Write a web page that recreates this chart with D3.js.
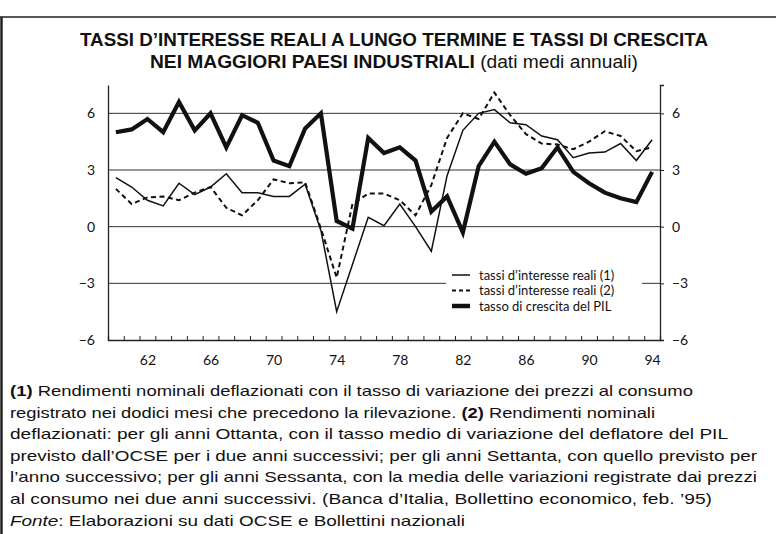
<!DOCTYPE html>
<html><head><meta charset="utf-8">
<script src="https://cdn.jsdelivr.net/npm/d3@7"></script>
<style>
html,body{margin:0;padding:0;background:#fff;}
svg{display:block;}
</style></head>
<body>
<svg id="c" width="776" height="534"></svg>
<script>
// ---------- DATA ----------
const years = d3.range(1960, 1995);
const gdpGrowth = [5.0,5.15,5.7,5.0,6.6,5.1,6.0,4.2,5.9,5.5,3.5,3.2,5.2,6.0,0.3,-0.1,4.7,3.9,4.2,3.5,0.8,1.6,-0.3,3.2,4.5,3.3,2.8,3.1,4.2,2.9,2.3,1.8,1.5,1.3,2.9];
const realRates1 = [2.6,2.1,1.4,1.1,2.3,1.7,2.1,2.8,1.8,1.8,1.6,1.6,2.25,-0.2,-4.5,-2.0,0.5,0.05,1.2,0.0,-1.3,2.7,5.1,6.0,6.2,5.5,5.4,4.8,4.6,3.65,3.9,3.95,4.4,3.5,4.6];
const realRates2 = [2.0,1.2,1.55,1.6,1.4,1.8,2.1,1.0,0.6,1.4,2.5,2.3,2.35,-0.1,-2.7,1.2,1.75,1.75,1.4,0.6,2.2,4.7,6.0,5.7,7.1,5.9,4.9,4.4,4.35,4.1,4.5,5.05,4.8,4.0,4.2];
const yTicks = [-6,-3,0,3,6];
const gridValues = [-3,0,3,6];
const xLabelYears = [62,66,70,74,78,82,86,90,94];
const legendLabels = ["tassi d\u2019interesse reali (1)","tassi d\u2019interesse reali (2)","tasso di crescita del PIL"];
const titleLine1 = "TASSI D\u2019INTERESSE REALI A LUNGO TERMINE E TASSI DI CRESCITA";
const titleLine2Bold = "NEI MAGGIORI PAESI INDUSTRIALI";
const titleLine2Reg = " (dati medi annuali)";
const notes = [
  [["b","(1)"],["r"," Rendimenti nominali deflazionati con il tasso di variazione dei prezzi al consumo"]],
  [["r","registrato nei dodici mesi che precedono la rilevazione. "],["b","(2)"],["r"," Rendimenti nominali"]],
  [["r","deflazionati: per gli anni Ottanta, con il tasso medio di variazione del deflatore del PIL"]],
  [["r","previsto dall\u2019OCSE per i due anni successivi; per gli anni Settanta, con quello previsto per"]],
  [["r","l\u2019anno successivo; per gli anni Sessanta, con la media delle variazioni registrate dai prezzi"]],
  [["r","al consumo nei due anni successivi. (Banca d\u2019Italia, Bollettino economico, feb. \u201995)"]],
  [["i","Fonte"],["r",": Elaborazioni su dati OCSE e Bollettini nazionali"]]
];
const noteWidths = [683, 645, 718, 747, 747, 702, 455];

// ---------- LAYOUT ----------
const svg = d3.select("#c");
const L = 108, R = 660, T = 85, B = 340;
const x = d3.scaleLinear().domain([59.5, 94.5]).range([L, R]);
const y = d3.scaleLinear().domain([-6, 7.5]).range([B, T]);
const tickFont = "Lato, 'DejaVu Sans', sans-serif";

// frame
svg.append("line").attr("x1",0).attr("x2",776).attr("y1",17).attr("y2",17).attr("stroke","#222").attr("stroke-width",1.5);
svg.append("line").attr("x1",1.5).attr("x2",1.5).attr("y1",17).attr("y2",534).attr("stroke","#222").attr("stroke-width",2.5);

// title
svg.append("text").attr("x",394).attr("y",46).attr("text-anchor","middle")
  .attr("font-family","'Liberation Sans Narrow','Liberation Sans',Arial,sans-serif").attr("font-weight","bold")
  .attr("font-size",17.5).attr("textLength",628).attr("lengthAdjust","spacingAndGlyphs").attr("fill","#111")
  .text(titleLine1);
const t2 = svg.append("text").attr("x",394).attr("y",68).attr("text-anchor","middle")
  .attr("font-family","'Liberation Sans Narrow','Liberation Sans',Arial,sans-serif")
  .attr("font-size",17.5).attr("textLength",488).attr("lengthAdjust","spacingAndGlyphs").attr("fill","#111");
t2.append("tspan").attr("font-weight","bold").text(titleLine2Bold);
t2.append("tspan").text(titleLine2Reg);

// gridlines
svg.append("g").selectAll("line").data(gridValues).join("line")
  .attr("x1",L).attr("x2",R).attr("y1",d=>y(d)).attr("y2",d=>y(d))
  .attr("stroke","#333").attr("stroke-width",1);

// axes
const leftAxis = d3.axisLeft(y).tickValues(yTicks).tickSize(0).tickPadding(13).tickFormat(d3.format("d"));
const gl = svg.append("g").attr("transform",`translate(${L},0)`).call(leftAxis);
const rightAxis = d3.axisRight(y).tickValues(yTicks).tickSize(4).tickPadding(8).tickFormat(d3.format("d"));
const gr = svg.append("g").attr("transform",`translate(${R},0)`).call(rightAxis);
const bottomTicks = d3.axisBottom(x).tickValues(d3.range(59.5,95,1)).tickSize(-4).tickFormat("");
const gb = svg.append("g").attr("transform",`translate(0,${B})`).call(bottomTicks);
const bottomLabels = d3.axisBottom(x).tickValues(xLabelYears.map(v=>1900+v-1900)).tickSize(0).tickPadding(15).tickFormat(d=>d);
const gbl = svg.append("g").attr("transform",`translate(0,${B})`).call(bottomLabels);
gbl.select(".domain").remove();
[gl,gr,gb].forEach(g=>g.select(".domain").attr("stroke","#222").attr("stroke-width",1.3));
[gl,gr,gb,gbl].forEach(g=>g.selectAll("text").attr("font-family",tickFont).attr("font-size",14).attr("fill","#111"));
gb.selectAll(".tick line").attr("stroke","#222");
gr.selectAll(".tick line").attr("stroke","#222");

// series (x in two-digit years)
const yr = years.map(v=>v-1900);
const lineGen = vals => d3.line().x((d,i)=>x(yr[i])).y(d=>y(d))(vals);
svg.append("path").attr("d",lineGen(realRates2)).attr("fill","none").attr("stroke","#111")
  .attr("stroke-width",2).attr("stroke-dasharray","5,3.5");
svg.append("path").attr("d",lineGen(realRates1)).attr("fill","none").attr("stroke","#111")
  .attr("stroke-width",1.5).attr("stroke-linejoin","miter");
svg.append("path").attr("d",lineGen(gdpGrowth)).attr("fill","none").attr("stroke","#111")
  .attr("stroke-width",4.2).attr("stroke-linejoin","miter");

// legend
const lg = svg.append("g");
lg.append("rect").attr("x",446).attr("y",264).attr("width",196).attr("height",48).attr("fill","#fff");
const legendStyles = [{w:1.5,d:null},{w:2,d:"4,3"},{w:4.5,d:null}];
legendLabels.forEach((lab,i)=>{
  const yy = 275 + i*15.5;
  lg.append("line").attr("x1",452).attr("x2",470).attr("y1",yy).attr("y2",yy)
    .attr("stroke","#111").attr("stroke-width",legendStyles[i].w).attr("stroke-dasharray",legendStyles[i].d);
  lg.append("text").attr("x",479).attr("y",yy+4.5).attr("font-family",tickFont).attr("font-size",13).attr("fill","#111").text(lab);
});

// notes
const ng = svg.append("g").attr("font-family","'Liberation Sans Narrow','Liberation Sans',Arial,sans-serif").attr("font-size",15).attr("fill","#111");
notes.forEach((parts,i)=>{
  const t = ng.append("text").attr("x",10).attr("y",396 + i*21.6)
    .attr("textLength",noteWidths[i]).attr("lengthAdjust","spacingAndGlyphs");
  parts.forEach(p=>{
    const s = t.append("tspan").text(p[1]);
    if(p[0]==="b") s.attr("font-weight","bold");
    if(p[0]==="i") s.attr("font-style","italic");
  });
});
</script>
</body></html>
